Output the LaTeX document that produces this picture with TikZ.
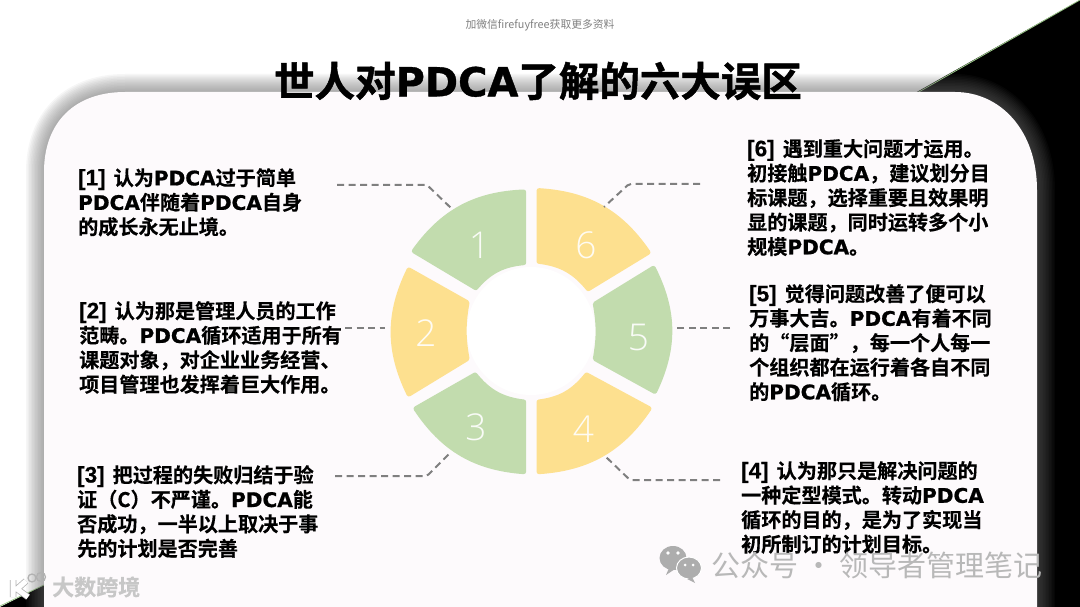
\documentclass[tikz,border=0pt]{standalone}
\usepackage{fontspec}
\setmainfont{Noto Sans CJK SC}[UprightFont={* Bold},BoldFont={* Bold},FakeBold=.35]
\newfontfamily\titlefont{Noto Sans CJK SC}[UprightFont={* Bold},FakeBold=1.2]
\newfontfamily\plainfont{Noto Sans CJK SC}
\newfontfamily\latinblack{DejaVu Sans Bold}[FakeBold=.9]
\newfontfamily\bracketfont{Liberation Sans Bold}[FakeBold=.4]
\newfontfamily\numfont{Open Sans Light}
\usetikzlibrary{calc}
\definecolor{segG}{HTML}{C2DCAE}
\definecolor{segY}{HTML}{FDE08F}
\definecolor{dashG}{HTML}{7F7F7F}
\definecolor{panel}{HTML}{FDFAFC}
\definecolor{accent}{HTML}{9CC98A}
\newcommand{\LB}[1]{{\latinblack #1}}
\newcommand{\BK}[1]{{\bracketfont\fontsize{22.5}{24}\selectfont [#1]}\hspace{8pt}}
\newcommand{\panelshape}{(44,607) -- (44,172) .. controls (44,122) and (75,92) .. (125,92)
  -- (955,92) .. controls (1000,92) and (1037,130) .. (1037,190) -- (1037,607) -- cycle}
\tikzset{
  seggreen/.style={fill=segG,draw=segG,line join=round,line width=5pt},
  segyellow/.style={fill=segY,draw=segY,line join=round,line width=5pt},
  conn/.style={draw=dashG,line width=2pt,dash pattern=on 7pt off 4.5pt,rounded corners=2pt},
  body/.style={align=left,anchor=north west,inner sep=0pt,font=\fontsize{20.1}{24.5}\selectfont,text=black},
  num/.style={text=white,font=\numfont\fontsize{37}{37}\selectfont,inner sep=0pt,opacity=.9},
}
\begin{document}
\begin{tikzpicture}[x=1pt,y=-1pt]
\useasboundingbox (0,0) rectangle (1080,607);
\fill[white] (0,0) rectangle (1080,607);
% dark corners
\fill[black] (1080,0) -- (1080,607) -- (915,607) -- (915,93) -- cycle;
\draw[accent,line width=.8pt] (917,93) -- (1080,0);
\fill[black] (0,607) -- (46,607) -- (46,584) -- cycle;
\draw[accent,line width=.8pt] (0,606) -- (46,584);
% shadow round the panel
\foreach \w in {3,6,...,36}{\draw[draw=black!58,opacity=.06,line width=\w pt,line join=round] \panelshape;}
\fill[panel] \panelshape;
% ring centre
\fill[white] (531,331) circle[radius=64];
% title and top note
\node[inner sep=0pt,font=\titlefont\fontsize{40.5}{40}\selectfont,text=black] (title) at (538,81)
  {世人对{\latinblack\fontsize{40}{40}\selectfont PDCA}了解的六大误区};
\node[inner sep=0pt,font=\plainfont\fontsize{10.8}{11}\selectfont,text=black!50] (topnote) at (540,25) {加微信firefuyfree获取更多资料};
% ring segments
\begin{scope}[shift={(370,170)},x=.33333pt,y=-.33333pt]
\path[seggreen] (133,243) to[bend left=26] (461,66) -- (461,278) to[bend right=22] (317,353) -- cycle;
\path[segyellow] (507,62) to[bend left=26] (834,247) -- (655,356) to[bend right=22] (507,274) -- cycle;
\path[seggreen] (850,295) to[bend left=26] (854,664) -- (676,566) to[bend right=10] (676,402) -- cycle;
\path[segyellow] (837,716) to[bend left=26] (507,905) -- (507,696) to[bend right=22] (650,615) -- cycle;
\path[seggreen] (461,905) to[bend left=26] (138,716) -- (315,615) to[bend right=22] (461,696) -- cycle;
\path[segyellow] (117,672) to[bend left=26] (117,300) -- (291,398) to[bend right=10] (291,566) -- cycle;
\node[num] (n1) at (328,225) {1};
\node[num] (n2) at (168,490) {2};
\node[num] (n3) at (318,772) {3};
\node[num] (n4) at (640,778) {4};
\node[num] (n5) at (805,503) {5};
\node[num] (n6) at (648,225) {6};
\end{scope}
% connector ends
\coordinate (c1a) at (337,185); \coordinate (c1b) at (427,185); \coordinate (c1c) at (451,208);
\coordinate (c2a) at (345,328); \coordinate (c2b) at (385,328);
\coordinate (c3a) at (335,476); \coordinate (c3b) at (427,476); \coordinate (c3c) at (451,452);
\coordinate (c4a) at (720,480); \coordinate (c4b) at (630,480); \coordinate (c4c) at (606,457);
\coordinate (c5a) at (730,328); \coordinate (c5b) at (673,328);
\coordinate (c6a) at (700,184); \coordinate (c6b) at (629,184); \coordinate (c6c) at (604,207);
\draw[conn] (c1a) -- (c1b) -- (c1c);
\draw[conn] (c2a) -- (c2b);
\draw[conn] (c3a) -- (c3b) -- (c3c);
\draw[conn] (c4a) -- (c4b) -- (c4c);
\draw[conn] (c5a) -- (c5b);
\draw[conn] (c6a) -- (c6b) -- (c6c);
% texts
\node[body] (t1) at (78,168) {\BK{1}认为\LB{PDCA}过于简单\\\LB{PDCA}伴随着\LB{PDCA}自身\\的成长永无止境。};
\node[body] (t2) at (79,301) {\BK{2}认为那是管理人员的工作\\范畴。\LB{PDCA}循环适用于所有\\课题对象，对企业业务经营、\\项目管理也发挥着巨大作用。};
\node[body] (t3) at (77,465) {\BK{3}把过程的失败归结于验\\证（C）不严谨。\LB{PDCA}能\\否成功，一半以上取决于事\\先的计划是否完善};
\node[body] (t4) at (741,461) {\BK{4}认为那只是解决问题的\\一种定型模式。转动\LB{PDCA}\\循环的目的，是为了实现当\\初所制订的计划目标。};
\node[body] (t5) at (749,284) {\BK{5}觉得问题改善了便可以\\万事大吉。\LB{PDCA}有着不同\\的“层面”，每一个人每一\\个组织都在运行着各自不同\\的\LB{PDCA}循环。};
\node[body] (t6) at (747,139) {\BK{6}遇到重大问题才运用。\\初接触\LB{PDCA}，建议划分目\\标课题，选择重要且效果明\\显的课题，同时运转多个小\\规模\LB{PDCA}。};
% watermark, bottom right
\fill[black!32] (673,558) ellipse[x radius=13.5,y radius=12];
\fill[black!32] (669,568) -- (666,575) -- (675,569) -- cycle;
\fill[black!32,draw=white,line width=1pt] (689,568) ellipse[x radius=12.5,y radius=11];
\fill[black!32] (692,577) -- (695,583) -- (687,579) -- cycle;
\fill[white] (668,553) circle[radius=1.8] (678,553) circle[radius=1.8] (685,565) circle[radius=1.5] (693,565) circle[radius=1.5];
\node[inner sep=0pt,anchor=west,font=\plainfont\fontsize{29}{29}\selectfont,text=black!28] (wm) at (711,565) {公众号\hspace{6pt}·\hspace{6pt}领导者管理笔记};
% watermark, bottom left
\draw[white,line width=5pt,preaction={draw=black!30,line width=6.5pt}] (13,580) -- (13,597) (26,581) -- (17,589) -- (28,597);
\draw[black!30,line width=1.3pt] (32,578) circle[radius=4] (41,577) circle[radius=4.5];
\node[inner sep=0pt,anchor=west,font=\fontsize{22}{22}\selectfont,text=black!22] (wl) at (52,587) {大数跨境};
\end{tikzpicture}
\end{document}
